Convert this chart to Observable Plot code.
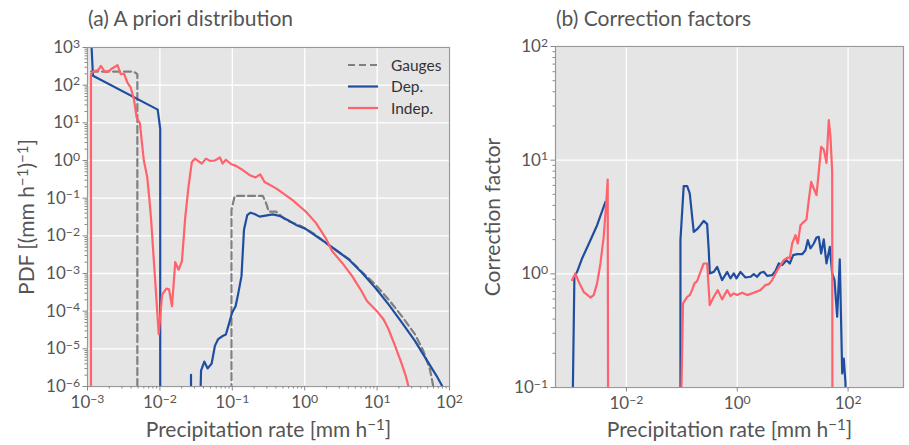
<!DOCTYPE html>
<html><head><meta charset="utf-8">
<script src="https://cdn.jsdelivr.net/npm/d3@7"></script>
<script src="https://cdn.jsdelivr.net/npm/@observablehq/plot@0.6"></script>
<style>
body{margin:0;background:#fff;font-family:Lato,"Open Sans",sans-serif;}
#wrap{position:relative;width:909px;height:445px;overflow:hidden;background:#fff;}
.panel{position:absolute;top:0;}
.title{height:35px;line-height:36px;font-size:21px;color:#555;white-space:nowrap;}
svg [aria-label="x-axis label"] text, svg [aria-label="y-axis label"] text{font-size:21px;}
.legend{position:absolute;}
</style>
</head><body>
<div id="wrap">
  <div class="panel" id="pb" style="left:460px;width:449px;"><div class="title" style="padding-left:96px;">(b) Correction factors</div></div>
  <div class="panel" id="pa" style="left:0;width:460px;"><div class="title" style="padding-left:88px;">(a) A priori distribution</div></div>
</div>
<script>
// ---- Panel (a): a priori PDF, [rate (mm/h), pdf] pairs; null = gap ----
const gauges = [[1.12e-3,229],[4.38e-3,229],[4.88e-3,195],[4.88e-3,1e-7],null,
  [9.75e-2,1e-7],[9.75e-2,4.9e-2],[0.108,0.115],[0.264,0.115],[0.294,7.24e-2],[0.319,4.37e-2],[0.403,4.37e-2],
  [0.552,2.63e-2],[0.887,1.82e-2],[1.42,1.07e-2],[2.17,5.5e-3],[4.07,2.45e-3],[6.19,1.1e-3],[9.44,5.13e-4],
  [14.4,2.04e-4],[21.9,7.41e-5],[33.3,2.45e-5],[43.4,8.91e-6],[53.6,2.88e-6],[56.4,1.78e-6],[59.4,1.05e-6],[63.1,3.2e-7]];
const dep = [[1.12e-3,2000],[1.19e-3,178],[9.33e-3,22.4],[1.01e-2,6.92],[1.01e-2,1e-7],null,
  [2.69e-2,2.04e-6],[2.69e-2,1e-7],null,
  [3.63e-2,5e-7],[3.70e-2,2.63e-6],[4.11e-2,4.57e-6],[4.57e-2,3.02e-6],[5.19e-2,4.07e-6],[5.75e-2,1.2e-5],
  [6.38e-2,1.82e-5],[7.35e-2,2.19e-5],[8.15e-2,2.4e-5],[8.95e-2,4.47e-5],[9.93e-2,9.12e-5],[0.111,1.35e-4],
  [0.120,2.75e-4],[0.134,8.51e-4],[0.145,1.45e-2],[0.161,3.55e-2],[0.179,4.12e-2],[0.203,3.8e-2],[0.238,3.24e-2],
  [0.362,3.72e-2],[0.448,3.39e-2],[0.581,2.63e-2],[0.759,1.95e-2],[1.04,1.51e-2],[1.42,1e-2],[1.95,6.61e-3],
  [2.67,4.27e-3],[4.07,2.34e-3],[6.19,1.05e-3],[9.44,4.17e-4],[14.4,1.51e-4],[21.9,5.01e-5],[33.3,1.62e-5],
  [50.7,4.37e-6],[65.9,1.95e-6],[78.9,1.05e-6],[89.1,6.3e-7]];
const indep = [[1.117e-3,1e-7],[1.117e-3,195],[1.216e-3,240],[1.306e-3,240],[1.406e-3,251],[1.531e-3,324],
  [1.738e-3,224],[1.991e-3,240],[2.213e-3,282],[2.594e-3,339],[2.877e-3,195],[3.192e-3,204],[3.556e-3,117],
  [3.945e-3,87.1],[4.375e-3,42.7],[4.764e-3,14.1],[5.284e-3,9.77],[6.0e-3,1.0],[6.68e-3,0.363],[7.18e-3,8.91e-2],
  [7.57e-3,2.63e-2],[9.64e-3,2.45e-5],[1.072e-2,2.75e-4],[1.227e-2,3.98e-4],[1.337e-2,3.8e-4],[1.469e-2,1.35e-4],
  [1.629e-2,2.0e-3],[1.811e-2,1.26e-3],[2.014e-2,2.09e-3],[2.234e-2,2.95e-2],[2.483e-2,0.2],[2.761e-2,0.912],
  [3.062e-2,1.122],[3.404e-2,0.955],[3.784e-2,0.832],[4.335e-2,1.122],[4.92e-2,0.977],[5.75e-2,1.0],[6.75e-2,1.2],
  [7.35e-2,0.832],[8.15e-2,1.047],[9.75e-2,0.794],[0.114,0.708],[0.141,0.55],[0.174,0.407],[0.21,0.355],
  [0.243,0.427],[0.279,0.269],[0.403,0.182],[0.681,8.91e-2],[1.04,4.37e-2],[1.42,2.24e-2],[1.95,8.71e-3],
  [2.4,3.89e-3],[3.3,1.91e-3],[4.52,8.51e-4],[5.89,3.8e-4],[7.24,1.86e-4],[9.93,1.0e-4],[12.3,6.03e-5],
  [14.4,3.31e-5],[17.7,1.2e-5],[21.9,3.98e-6],[24.8,1.95e-6],[27.0,1.05e-6],[28.8,5.0e-7]];

// ---- Panel (b): correction factors, [rate, factor] pairs ----
const corrDep = [[1.047e-3,0.0316],[1.151e-3,0.942],[1.288e-3,1.042],[1.585e-3,1.365],[2.239e-3,1.977],
  [2.958e-3,2.679],[4.178e-3,4.295],null,
  [9.44e-2,0.0316],[9.44e-2,1.977],[0.108,5.9],[0.125,5.9],[0.139,5.09],[0.164,2.34],[0.189,2.47],[0.217,2.68],
  [0.248,2.92],[0.286,2.74],[0.306,1.61],[0.319,1.01],[0.377,1.04],[0.434,1.15],[0.533,0.881],[0.658,1.04],
  [0.753,0.912],[0.865,1.01],[0.968,0.912],[1.143,1.04],[1.406,0.929],[1.73,0.942],[1.986,0.993],[2.286,0.942],
  [2.624,1.021],[3.006,1.042],[3.467,0.959],[4.266,0.975],[4.898,1.062],[5.61,1.233],[6.471,1.194],[7.727,1.318],
  [8.872,1.233],[10.21,1.459],[12.05,1.489],[14.86,1.489],[17.02,1.614],[18.75,1.977],[20.94,1.671],[24.04,1.849],
  [26.92,2.089],[29.58,2.113],[32.66,1.51],[36.39,2.009],[40.74,1.233],[46.77,1.726],[51.64,1.009],[56.89,0.881],
  [63.53,0.419],[70.79,1.34],[78.34,0.133],[83.56,0.18],[89.74,0.109],[93.3,0.0316]];
const corrIndep = [[1.047e-3,0.881],[1.199e-3,1.009],[1.377e-3,0.851],[1.694e-3,0.695],[2.239e-3,0.619],
  [2.57e-3,0.65],[2.958e-3,0.824],[3.396e-3,1.233],[3.89e-3,2.113],[4.355e-3,4.446],[4.592e-3,6.761],
  [4.677e-3,0.0316],null,
  [9.44e-2,0.0316],[0.105,0.55],[0.125,0.628],[0.139,0.65],[0.153,0.719],[0.169,0.824],[0.189,0.863],[0.217,1.042],
  [0.248,1.233],[0.286,1.233],[0.319,0.531],[0.377,0.628],[0.445,0.719],[0.533,0.596],[0.658,0.719],[0.753,0.637],
  [0.865,0.673],[0.995,0.65],[1.225,0.681],[1.51,0.65],[1.986,0.681],[2.624,0.719],[3.228,0.796],[3.707,0.811],
  [4.266,0.881],[5.105,1.042],[6.026,1.194],[6.902,1.318],[8.166,1.393],[8.872,1.365],[9.795,1.849],[11.25,2.188],
  [12.36,1.849],[13.84,2.679],[15.85,2.864],[17.74,3.006],[19.54,4.446],[21.58,6.442],[24.04,5.636],[26.92,4.92],
  [29.58,7.889],[32.66,13.09],[36.39,12.42],[40.74,9.462],[44.87,22.49],[48.08,16.03],[51.64,7.889],[52.24,0.0316]];

// ---- ticks ----
const aRateTicks = [1e-3,1e-2,1e-1,1,10,100];
const aPdfTicks = [1e-6,1e-5,1e-4,1e-3,1e-2,1e-1,1,10,100,1000];
const bRateTicks = [1e-2,1,100];
const bFactorTicks = [0.1,1,10,100];
const seriesNames = ["Gauges","Dep.","Indep."];
const seriesColors = ["#808080","#1f4ea1","#ff626a"];

const minor = (majors) => majors.slice(0,-1).flatMap(d => [2,3,4,5,6,7,8,9].map(m => m*d));
const SUP = {"-":"\u207B","0":"\u2070","1":"\u00B9","2":"\u00B2","3":"\u00B3","4":"\u2074","5":"\u2075","6":"\u2076","7":"\u2077","8":"\u2078","9":"\u2079"};
const UNSUP = Object.fromEntries(Object.entries(SUP).map(([k, v]) => [v, k === "-" ? "\u2212" : k]));
const pow10 = d => "10" + String(Math.round(Math.log10(d))).split("").map(c => SUP[c]).join("");
const rows = (pairs) => pairs.map(p => p ? {x: p[0], y: p[1]} : {x: NaN, y: NaN});

const tickStroke = "#888";
const FONT = "Lato, 'Open Sans', sans-serif";
const lineOpts = (color, extra={}) => ({x:"x", y:"y", stroke: color, strokeWidth: 2.2, clip: true, ...extra});

const plotA = Plot.plot({
  width: 460, height: 410,
  marginLeft: 87, marginRight: 11, marginTop: 12, marginBottom: 59,
  style: {fontFamily: FONT, color: "#555", background: "transparent", overflow: "visible"},
  x: {type: "log", domain: [1e-3, 1e2]},
  y: {type: "log", domain: [1e-6, 1e3]},
  marks: [
    Plot.frame({fill: "#e5e5e5"}),
    Plot.gridX(aRateTicks, {stroke: "white", strokeOpacity: 1, strokeWidth: 1.3}),
    Plot.gridY(aPdfTicks, {stroke: "white", strokeOpacity: 1, strokeWidth: 1.3}),
    Plot.line(rows(gauges), lineOpts(seriesColors[0], {strokeDasharray: "7,4"})),
    Plot.line(rows(dep), lineOpts(seriesColors[1])),
    Plot.line(rows(indep), lineOpts(seriesColors[2])),
    Plot.frame({stroke: "#999", strokeWidth: 1.2}),
    Plot.axisX(minor(aRateTicks), {tickSize: 2.5, stroke: tickStroke, tickFormat: () => "", label: null}),
    Plot.axisY(minor(aPdfTicks), {tickSize: 2.5, stroke: tickStroke, tickFormat: () => "", label: null}),
    Plot.axisX(aRateTicks, {tickSize: 4.5, tickPadding: 5, stroke: tickStroke, tickFormat: pow10, fontSize: 17,
      label: "Precipitation rate [mm h\u207B\u00B9]", labelAnchor: "center", labelOffset: 50, labelArrow: "none"}),
    Plot.axisY(aPdfTicks, {tickSize: 4.5, tickPadding: 3, stroke: tickStroke, tickFormat: pow10, fontSize: 17,
      label: "PDF [(mm h\u207B\u00B9)\u207B\u00B9]", labelAnchor: "center", labelOffset: 68, labelArrow: "none"})
  ]
});

const plotB = Plot.plot({
  width: 449, height: 410,
  marginLeft: 95, marginRight: 6, marginTop: 11, marginBottom: 58,
  style: {fontFamily: FONT, color: "#555", background: "transparent", overflow: "visible"},
  x: {type: "log", domain: [5.25e-4, 1e3]},
  y: {type: "log", domain: [0.1, 100]},
  marks: [
    Plot.frame({fill: "#e5e5e5"}),
    Plot.gridX(bRateTicks, {stroke: "white", strokeOpacity: 1, strokeWidth: 1.3}),
    Plot.gridY(bFactorTicks, {stroke: "white", strokeOpacity: 1, strokeWidth: 1.3}),
    Plot.line(rows(corrDep), lineOpts(seriesColors[1])),
    Plot.line(rows(corrIndep), lineOpts(seriesColors[2])),
    Plot.frame({stroke: "#999", strokeWidth: 1.2}),
    Plot.axisY(minor(bFactorTicks), {tickSize: 2.5, stroke: tickStroke, tickFormat: () => "", label: null}),
    Plot.axisX(bRateTicks, {tickSize: 4.5, tickPadding: 5, stroke: tickStroke, tickFormat: pow10, fontSize: 17,
      label: "Precipitation rate [mm h\u207B\u00B9]", labelAnchor: "center", labelOffset: 49, labelArrow: "none"}),
    Plot.axisY(bFactorTicks, {tickSize: 4.5, tickPadding: 3, stroke: tickStroke, tickFormat: pow10, fontSize: 17,
      label: "Correction factor", labelAnchor: "center", labelOffset: 70, labelArrow: "none"})
  ]
});

// turn unicode superscripts into real raised tspans (keeps text as text)
function raiseSuperscripts(svg) {
  svg.querySelectorAll("text").forEach(t => {
    const targets = t.querySelectorAll("tspan").length ? Array.from(t.querySelectorAll("tspan")) : [t];
    targets.forEach(el => {
      const s = el.textContent;
      if (!/[\u207B\u2070\u00B9\u00B2\u00B3\u2074-\u2079]/.test(s)) return;
      const runs = [];
      for (const ch of s) {
        const sup = ch in UNSUP;
        const c = sup ? UNSUP[ch] : ch;
        if (runs.length && runs[runs.length - 1].sup === sup) runs[runs.length - 1].text += c;
        else runs.push({sup, text: c});
      }
      el.textContent = "";
      let raised = false;
      runs.forEach(r => {
        const ts = document.createElementNS("http://www.w3.org/2000/svg", "tspan");
        ts.textContent = r.text;
        if (r.sup) { ts.setAttribute("dy", "-0.42em"); ts.setAttribute("font-size", "0.72em"); raised = true; }
        else if (raised) { ts.setAttribute("dy", "0.3em"); raised = false; }
        el.appendChild(ts);
      });
    });
  });
}
raiseSuperscripts(plotA);
raiseSuperscripts(plotB);

document.getElementById("pa").appendChild(plotA);
document.getElementById("pb").appendChild(plotB);

// legend overlay (panel a, upper right)
const ns = "http://www.w3.org/2000/svg";
const leg = document.createElementNS(ns, "svg");
leg.setAttribute("width", 100); leg.setAttribute("height", 72);
leg.setAttribute("class", "legend");
leg.style.left = "345px"; leg.style.top = "54px";
seriesNames.forEach((name, i) => {
  const yy = 11 + i * 21.5;
  const l = document.createElementNS(ns, "line");
  l.setAttribute("x1", 3); l.setAttribute("x2", 33); l.setAttribute("y1", yy); l.setAttribute("y2", yy);
  l.setAttribute("stroke", seriesColors[i]); l.setAttribute("stroke-width", 2.2);
  if (i === 0) l.setAttribute("stroke-dasharray", "7,4");
  leg.appendChild(l);
  const t = document.createElementNS(ns, "text");
  t.setAttribute("x", 46); t.setAttribute("y", yy + 5.5);
  t.setAttribute("font-size", 15.5); t.setAttribute("fill", "#333");
  t.setAttribute("font-family", FONT);
  t.textContent = name;
  leg.appendChild(t);
});
document.getElementById("pa").appendChild(leg);
</script>
</body></html>
